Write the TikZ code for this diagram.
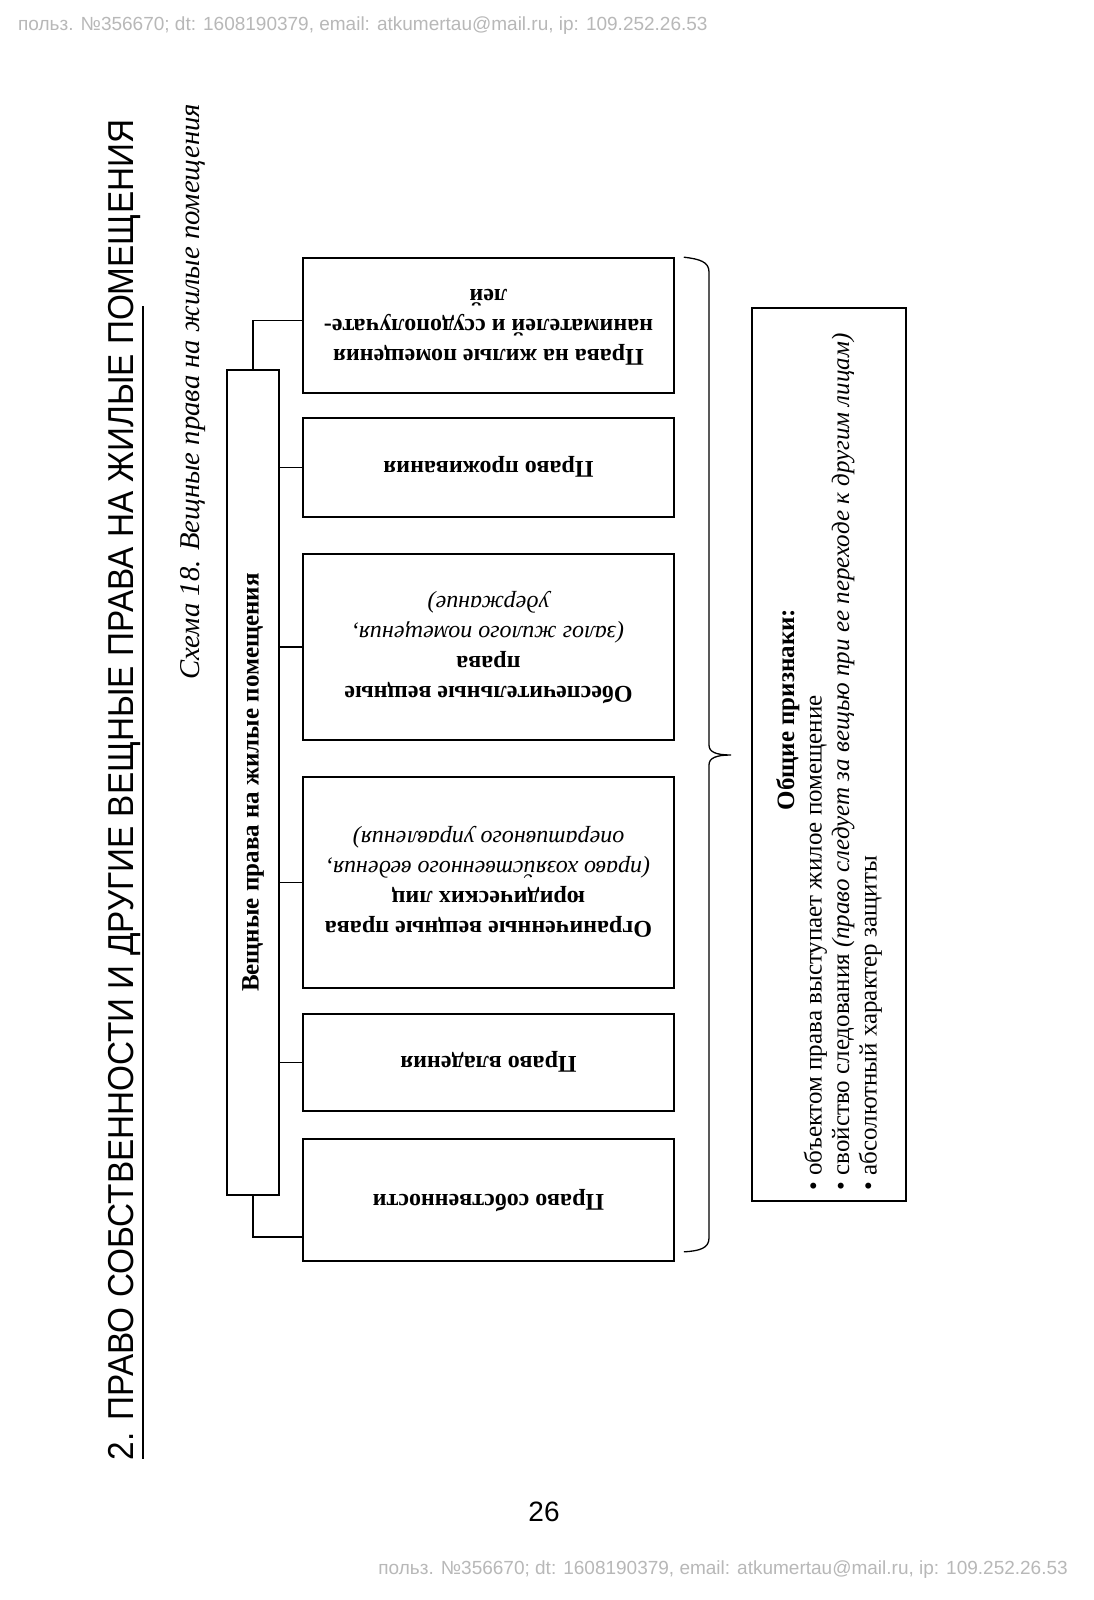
\documentclass[tikz,border=0pt]{standalone}
\usepackage{fontspec}
\setmainfont{Liberation Serif}
\newfontfamily\headfont[FakeStretch=0.925]{Liberation Sans}
\newfontfamily\markfont{Liberation Sans}
\usetikzlibrary{calc}

% text turned upside down inside a box
\newcommand{\flip}[1]{\rotatebox{180}{\begin{tabular}{@{}c@{}}#1\end{tabular}}}
\newcommand{\note}[1]{\mdseries\itshape #1}

\begin{document}
\begin{tikzpicture}[x=1pt,y=-1pt,
  rightbox/.style={draw, line width=1.6pt, minimum width=371pt, inner sep=0pt,
                   font=\fontsize{24}{30}\selectfont\bfseries},
  mainbox/.style={draw, line width=1.6pt, minimum width=52pt, minimum height=825pt,
                  inner sep=0pt, font=\fontsize{25}{28}\selectfont\bfseries},
  propbox/.style={draw, line width=1.6pt, minimum width=154pt, minimum height=893pt,
                  inner sep=0pt, font=\fontsize{25}{27.5}\selectfont},
  stem/.style={line width=1.2pt},
  brc/.style={line width=1.3pt},
  wmark/.style={font=\markfont\fontsize{19}{22}\selectfont, text=black!28, inner sep=0pt},
]
\fill[white] (0,0) rectangle (1093,1600);
\useasboundingbox (0,0) rectangle (1093,1600);

% ---- page furniture ----
\node[wmark, anchor=west] (wm1) at (18,26)
  {польз. №356670; dt: 1608190379, email: atkumertau@mail.ru, ip: 109.252.26.53};
\node[wmark, anchor=east] (wm2) at (1068,1570)
  {польз. №356670; dt: 1608190379, email: atkumertau@mail.ru, ip: 109.252.26.53};
\node[font=\markfont\fontsize{28}{30}\selectfont] (pgnum) at (544,1512) {26};

% ---- heading and caption ----
\node[font=\headfont\fontsize{36}{40}\selectfont, inner sep=0pt] (title) at (125,790)
  {\rotatebox{90}{2. ПРАВО СОБСТВЕННОСТИ И ДРУГИЕ ВЕЩНЫЕ ПРАВА НА ЖИЛЫЕ ПОМЕЩЕНИЯ}};
\draw[line width=1.2pt] (143,306) -- (143,1459);
\node[font=\fontsize{28.7}{32}\selectfont\itshape, inner sep=0pt] (caption) at (193,392)
  {\rotatebox{90}{Схема 18. Вещные права на жилые помещения}};

% ---- right column ----
\node[rightbox, minimum height=135pt] (b1) at (488.5,325.5)
  {\flip{Права на жилые помещения\\нанимателей и ссудополучате-\\лей}};
\node[rightbox, minimum height=99pt] (b2) at (488.5,467.5)
  {\flip{Право проживания}};
\node[rightbox, minimum height=186pt] (b3) at (488.5,647)
  {\flip{Обеспечительные вещные\\права\\\note{(залог жилого помещения,}\\\note{удержание)}}};
\node[rightbox, minimum height=211pt] (b4) at (488.5,882.5)
  {\flip{Ограниченные вещные права\\юридических лиц\\\note{(право хозяйственного ведения,}\\\note{оперативного управления)}}};
\node[rightbox, minimum height=97pt] (b5) at (488.5,1062.5)
  {\flip{Право владения}};
\node[rightbox, minimum height=122pt] (b6) at (488.5,1200)
  {\flip{Право собственности}};

% ---- root ----
\node[mainbox] (root) at (253,782.5)
  {\rotatebox{90}{Вещные права на жилые помещения}};

% ---- stems root -> boxes ----
\draw[stem] (root.north) |- ($(b1.west)!0.07!(b1.north west)$);
\foreach \b in {b2,b3,b4,b5}{
  \draw[stem] (\b.west) -- (\b.west -| root.east);
}
\draw[stem] (root.south) |- ($(b6.west)!0.6!(b6.south west)$);

% ---- brace ----
\coordinate (brtop) at ($(b1.north east)+(9,0)$);
\coordinate (brbot) at ($(b6.south east)+(9,-10)$);
\coordinate (brtip) at (731,755);
\draw[brc] (brtop) .. controls (700,259) and (709,262) .. (709,272) -- (709,745)
  .. controls (709,752) and (716,755) .. (brtip)
  .. controls (716,755) and (709,758) .. (709,765) -- (709,1238)
  .. controls (709,1248) and (700,1251) .. (brbot);

% ---- common features ----
\node[propbox] (props) at (829,754.5)
  {\rotatebox{90}{\begin{minipage}{872pt}
    {\centering\hspace*{90pt}\textbf{Общие признаки:}\par}
    \raggedright
    \textbullet\ объектом права выступает жилое помещение\par
    \textbullet\ свойство следования \textit{(право следует за вещью при ее переходе к другим лицам)}\par
    \textbullet\ абсолютный характер защиты\par
  \end{minipage}}};

\end{tikzpicture}
\end{document}
